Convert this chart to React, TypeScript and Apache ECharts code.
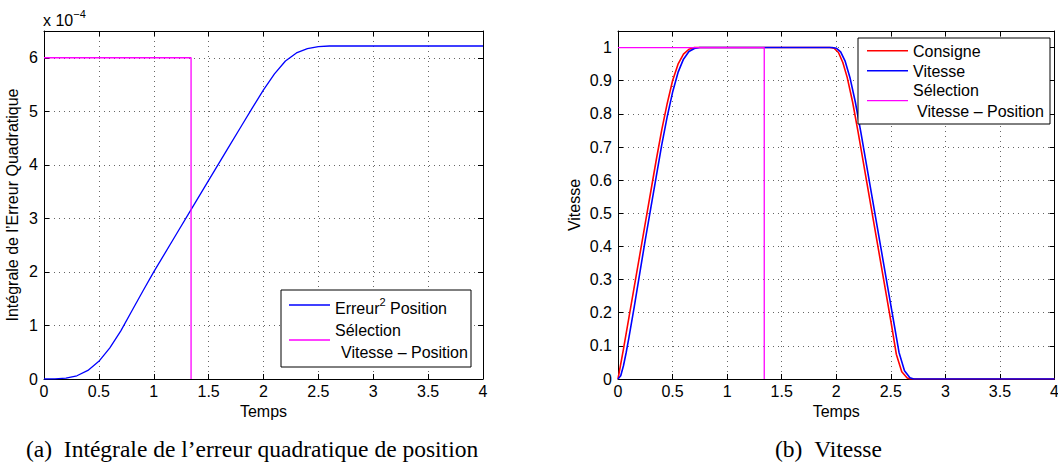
import React, { useEffect, useRef } from "react";
import * as echarts from "echarts";

// ---------- data ----------
const xTicks = [0, 0.5, 1, 1.5, 2, 2.5, 3, 3.5, 4];

// (a) integral of squared position error (x 1e-4)
const errT = [0, 0.1, 0.2, 0.3, 0.4, 0.5, 0.6, 0.7, 0.8, 0.9, 1.0, 1.2, 1.34, 1.5, 1.67, 1.8, 1.9, 2.0, 2.1, 2.2, 2.3, 2.4, 2.5, 2.6, 2.8, 4.0];
const errV = [0, 0.002, 0.015, 0.06, 0.16, 0.33, 0.58, 0.9, 1.27, 1.64, 2.0, 2.685, 3.165, 3.71, 4.29, 4.73, 5.07, 5.4, 5.7, 5.94, 6.09, 6.17, 6.21, 6.22, 6.22, 6.22];
const selT = [0, 1.34, 1.34];
const selErrV = [6, 6, 0];

// (b) speed
const consT = [0, 0.05, 0.1, 0.15, 0.2, 0.25, 0.3, 0.35, 0.4, 0.45, 0.5, 0.55, 0.6, 0.65, 0.7, 0.75, 1.94, 1.98, 2.02, 2.06, 2.1, 2.15, 2.2, 2.25, 2.3, 2.35, 2.4, 2.45, 2.5, 2.55, 2.6, 2.65, 2.68, 4.0];
const consV = [0, 0.09, 0.185, 0.28, 0.375, 0.47, 0.565, 0.66, 0.75, 0.83, 0.9, 0.95, 0.98, 0.995, 1, 1, 1, 0.998, 0.985, 0.955, 0.91, 0.835, 0.745, 0.65, 0.555, 0.46, 0.365, 0.27, 0.175, 0.075, 0.022, 0.003, 0, 0];
const vitT = [0, 0.025, 0.05, 0.075, 0.1, 0.15, 0.2, 0.25, 0.3, 0.35, 0.4, 0.45, 0.5, 0.55, 0.6, 0.65, 0.7, 0.75, 1.96, 2.0, 2.04, 2.08, 2.125, 2.175, 2.225, 2.275, 2.325, 2.375, 2.425, 2.475, 2.525, 2.575, 2.625, 2.675, 2.71, 4.0];
const vitV = [0, 0.01, 0.04, 0.08, 0.125, 0.22, 0.32, 0.42, 0.515, 0.61, 0.705, 0.79, 0.865, 0.925, 0.965, 0.988, 0.997, 1, 1, 0.998, 0.987, 0.96, 0.91, 0.835, 0.745, 0.65, 0.555, 0.46, 0.365, 0.27, 0.175, 0.08, 0.025, 0.004, 0, 0];
const selVitV = [1, 1, 0];

const leftYTicks = [0, 1, 2, 3, 4, 5, 6];
const rightYTicks = [0, 0.1, 0.2, 0.3, 0.4, 0.5, 0.6, 0.7, 0.8, 0.9, 1];

// ---------- styles ----------
const SANS = '"Liberation Sans", Arial, Helvetica, sans-serif';
const SERIF = '"Liberation Serif", "Times New Roman", serif';
const BLUE = "#0000ff";
const RED = "#ff0000";
const MAGENTA = "#ff00ff";

const pairs = (t: number[], v: number[]) => t.map((x, i) => [x, v[i]]);

const dotted = { show: true, lineStyle: { color: "#666", width: 1, type: [1, 4] } };
const axisLine = { show: true, onZero: false, lineStyle: { color: "#000", width: 1 } };
const axisTick = { show: true, inside: true, length: 5, lineStyle: { color: "#000", width: 1 } };

function xAxes(gridIndex: number) {
  const step = xTicks[1] - xTicks[0];
  return [
    {
      type: "value", gridIndex, position: "bottom",
      min: xTicks[0], max: xTicks[xTicks.length - 1], interval: step,
      name: "Temps", nameLocation: "middle", nameGap: 22,
      nameTextStyle: { color: "#000", fontSize: 16, fontFamily: SANS },
      axisLine, axisTick,
      axisLabel: { color: "#000", fontSize: 16, fontFamily: SANS, margin: 4, showMinLabel: true, showMaxLabel: true, hideOverlap: false },
      splitLine: dotted,
    },
    {
      type: "value", gridIndex, position: "top",
      min: xTicks[0], max: xTicks[xTicks.length - 1], interval: step,
      axisLine, axisTick, axisLabel: { show: false }, splitLine: { show: false },
    },
  ];
}

function yAxes(gridIndex: number, ticks: number[], max: number, name: string, nameGap: number) {
  const step = ticks[1] - ticks[0];
  return [
    {
      type: "value", gridIndex, position: "left",
      min: ticks[0], max, interval: step,
      name, nameLocation: "middle", nameGap, nameRotate: 90,
      nameMoveOverlap: false,
      nameTextStyle: { color: "#000", fontSize: 16, fontFamily: SANS },
      axisLine, axisTick,
      axisLabel: { color: "#000", fontSize: 16, fontFamily: SANS, margin: 6, showMaxLabel: false, hideOverlap: false },
      splitLine: dotted,
    },
    {
      type: "value", gridIndex, position: "right",
      min: ticks[0], max, interval: step,
      axisLine, axisTick, axisLabel: { show: false }, splitLine: { show: false },
    },
  ];
}

function line(data: number[][], color: string, width: number, xi: number, yi: number) {
  return {
    type: "line", data, xAxisIndex: xi, yAxisIndex: yi,
    showSymbol: false, symbol: "none", smooth: false,
    lineStyle: { color, width }, itemStyle: { color },
    emphasis: { disabled: true }, silent: true, clip: true, z: 3,
  };
}

const supRich = {
  n: { fontSize: 16, fontFamily: SANS, lineHeight: 24, fill: "#000", color: "#000" },
  s: { fontSize: 11, fontFamily: SANS, lineHeight: 12, verticalAlign: "top", fill: "#000", color: "#000" },
};

function txt(x: number, y: number, text: string, opts: any = {}) {
  return {
    type: "text", x, y, z: 100, zlevel: 0,
    style: {
      text, fill: "#000",
      fontSize: opts.fontSize || 16, fontFamily: opts.fontFamily || SANS,
      textAlign: opts.align || "left", align: opts.align || "left",
      textVerticalAlign: "middle", verticalAlign: "middle",
      rich: opts.rich,
    },
  };
}

function seg(x1: number, y1: number, x2: number, y2: number, color: string, w = 1.5) {
  return { type: "line", z: 100, shape: { x1, y1, x2, y2 }, style: { stroke: color, lineWidth: w } };
}

function box(x: number, y: number, w: number, h: number) {
  return { type: "rect", z: 99, shape: { x, y, width: w, height: h }, style: { fill: "#fff", stroke: "#000", lineWidth: 1 } };
}

const option: any = {
  animation: false,
  backgroundColor: "#fff",
  textStyle: { fontFamily: SANS },
  grid: [
    { left: 44, top: 31, width: 439, height: 348, containLabel: false },
    { left: 618, top: 31, width: 442, height: 348, containLabel: false },
  ],
  xAxis: [...xAxes(0), ...xAxes(1)],
  yAxis: [
    ...yAxes(0, leftYTicks, 6.5, "Intégrale de l’Erreur Quadratique", 24),
    ...yAxes(1, rightYTicks, 1.05, "Vitesse", 36),
  ],
  series: [
    line(pairs(errT, errV), BLUE, 1.3, 0, 0),
    line(pairs(selT, selErrV), MAGENTA, 1.3, 0, 0),
    line(pairs(consT, consV), RED, 1.6, 2, 2),
    line(pairs(vitT, vitV), BLUE, 1.6, 2, 2),
    line(pairs(selT, selVitV), MAGENTA, 1.3, 2, 2),
  ],
  graphic: [
    // exponent label
    txt(43, 20, "{n|x 10}{s|−4}", { rich: supRich }),
    // left legend
    box(281, 290, 190, 77),
    seg(289, 305, 330, 305, BLUE, 1.3),
    txt(335, 308, "{n|Erreur}{s|2}{n| Position}", { rich: supRich }),
    txt(335, 330, "Sélection"),
    seg(289, 340, 330, 340, MAGENTA, 1.3),
    txt(341, 352, "Vitesse – Position"),
    // right legend
    box(858, 38, 192, 86),
    seg(867, 50.7, 908, 50.7, RED, 1.6),
    txt(913, 51.7, "Consigne"),
    seg(867, 70.7, 908, 70.7, BLUE, 1.6),
    txt(913, 71.7, "Vitesse"),
    txt(913, 90.7, "Sélection"),
    seg(867, 100.7, 908, 100.7, MAGENTA, 1.3),
    txt(917, 111.7, "Vitesse – Position"),
    // captions
    txt(26, 449, "(a)\u2002Intégrale de l’erreur quadratique de position", { fontSize: 23.5, fontFamily: SERIF }),
    txt(775, 449, "(b)\u2002Vitesse", { fontSize: 23.5, fontFamily: SERIF }),
  ],
};

export default function App() {
  const ref = useRef<HTMLDivElement>(null);
  useEffect(() => {
    const chart = echarts.init(ref.current!, null, { renderer: "svg" });
    chart.setOption(option);
    return () => chart.dispose();
  }, []);
  return (
    <div style={{ position: "fixed", left: 0, top: 0, width: 1058, height: 465, overflow: "hidden", background: "#fff" }}>
      <div ref={ref} style={{ width: 1062, height: 465 }} />
    </div>
  );
}
